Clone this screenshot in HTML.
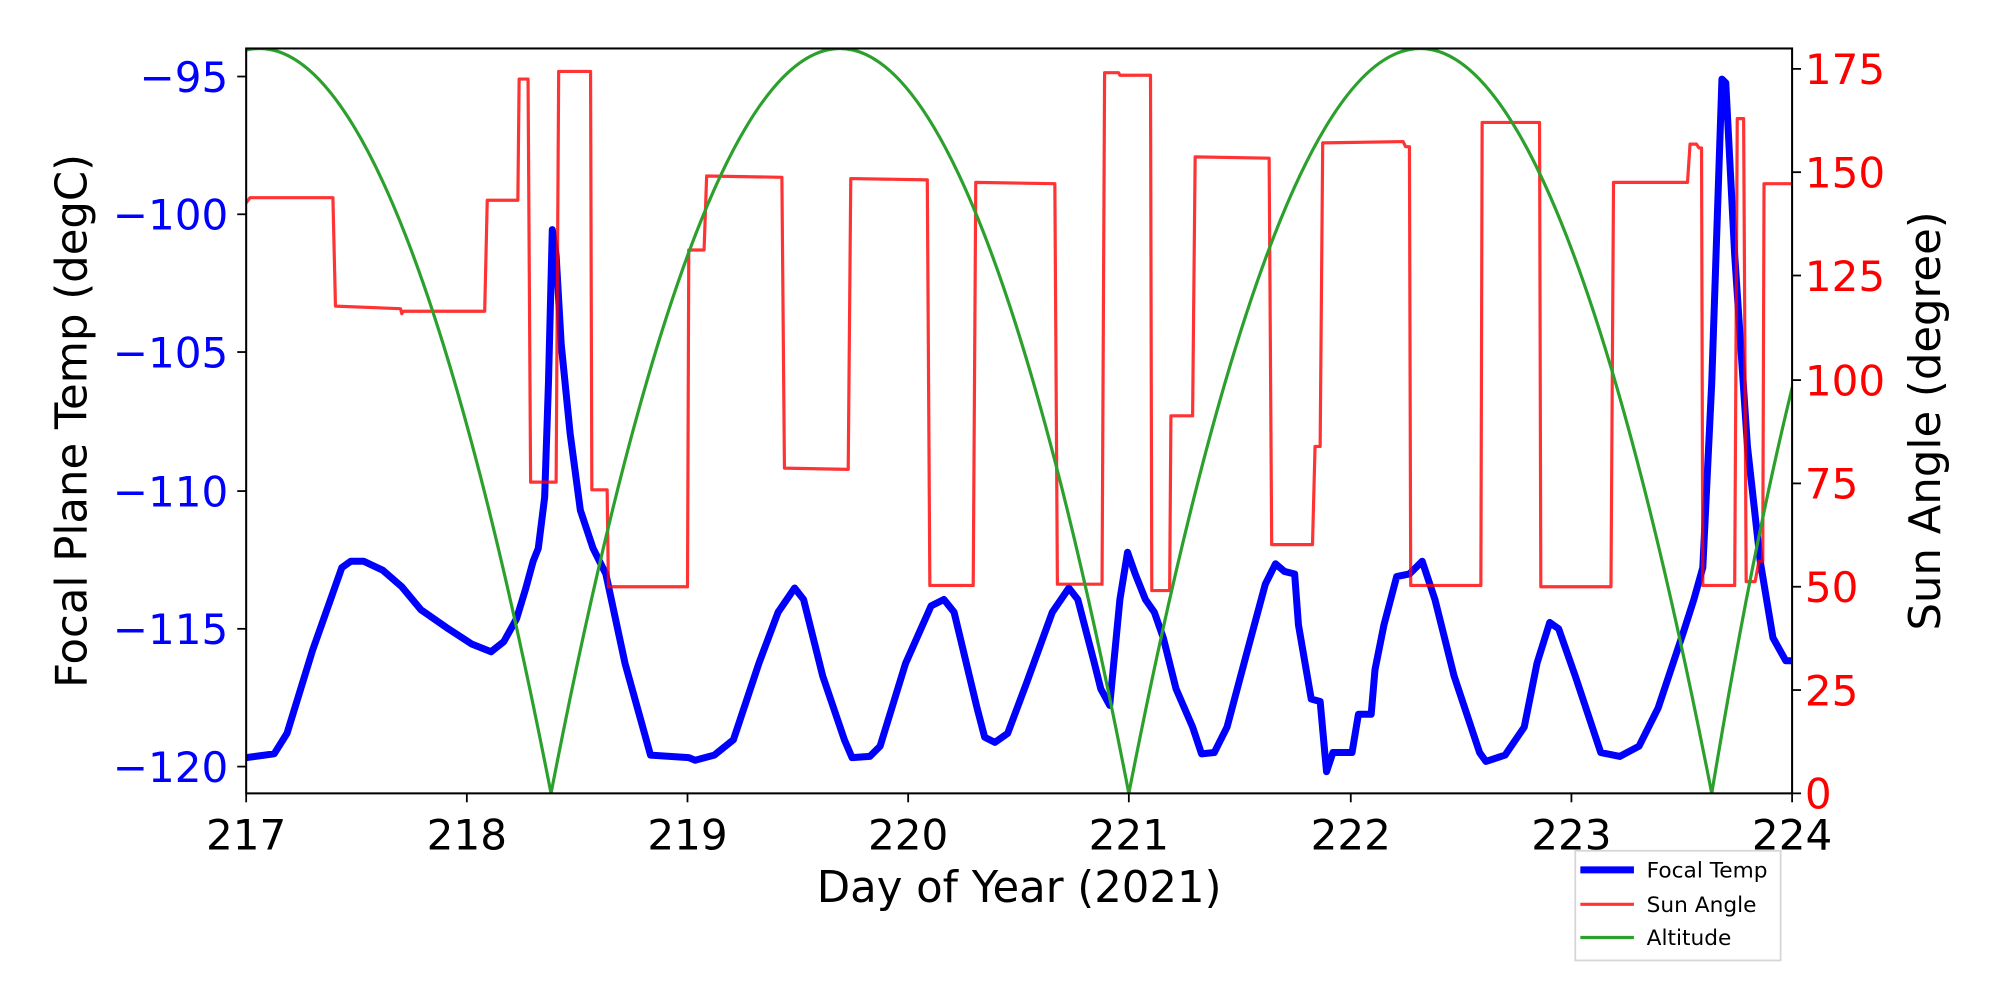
<!DOCTYPE html>
<html><head><meta charset="utf-8"><style>
html,body{margin:0;padding:0;background:#fff;}
svg{display:block;}
text{font-family:"DejaVu Sans","Liberation Sans",sans-serif;}
</style></head><body>
<svg width="2000" height="1000" viewBox="0 0 1568 784" xmlns="http://www.w3.org/2000/svg">
<defs><clipPath id="c"><rect x="193" y="38" width="1212" height="584"/></clipPath></defs>
<rect width="1568" height="784" fill="#fff"/>
<g clip-path="url(#c)" fill="none" stroke-linejoin="round" stroke-linecap="round">
<polyline stroke="#0000ff" stroke-width="5.5" points="193,594 215,591 225,575 245,510 268,445 275,440 285,440 300,447 315,460 330,478 350,492 370,505 385,511 395,503 405,485 412,462 418,440 422,430 427,390 430,300 433,180 436,200 440,270 447,340 455,400 465,430 475,450 490,520 510,592 540,594 545,596 560,592 575,580 595,520 610,480 623,461 630,470 645,530 662,580 668,594 682,593 690,585 710,520 730,475 740,470 748,480 760,530 766,555 772,578 780,582 790,575 805,535 825,480 838,461 845,470 858,520 863,540 870,553 878,470 884,433 890,450 898,470 905,480 912,500 922,540 935,570 942,591 952,590 962,570 978,510 992,458 1000,442 1007,448 1015,450 1018,490 1028,548 1035,550 1040,605 1045,590 1060,590 1065,560 1075,560 1078,525 1085,490 1095,452 1105,450 1115,440 1125,470 1140,530 1160,590 1165,597 1180,592 1195,570 1205,520 1215,488 1222,493 1235,530 1255,590 1270,593 1285,585 1300,555 1320,495 1328,470 1335,445 1342,300 1350,62 1353,65 1360,200 1370,350 1380,440 1390,500 1400,518 1405,518"/>
<polyline stroke="rgba(255,0,0,0.8)" stroke-width="2.5" points="193,159 196,155 261,155 263,240 314,242 315,246 316,244 380,244 382,157 406,157 407,62 414,62 416,378 436,378 438,56 463,56 464,384 476,384 477,460 539,460 540,196 552,196 554,138 613,139 615,367 665,368 667,140 727,141 729,459 763,459 765,143 827,144 829,458 864,458 866,57 877,57 878,59 902,59 903,463 917,463 918,326 935,326 937,123 995,124 997,427 1029,427 1031,350 1035,350 1037,112 1100,111 1102,115 1105,115 1106,459 1161,459 1162,96 1207,96 1208,460 1263,460 1265,143 1323,143 1325,113 1330,113 1332,116 1334,116 1335,459 1360,459 1362,93 1367,93 1369,456 1376,456 1379,440 1382,440 1383,144 1405,144"/>
<path stroke="#2ca02c" stroke-width="2.5" d="M-25,622 Q203.5,-546 432,622 Q658.5,-546 885,622 Q1113.5,-546 1342,622 Q1536,-546 1730,622"/>
</g>
<rect x="193" y="38" width="1212" height="584" fill="none" stroke="#000" stroke-width="1.6"/>
<g stroke="#000" stroke-width="1.4">
<line x1="186" y1="60" x2="193" y2="60"/><line x1="186" y1="168" x2="193" y2="168"/><line x1="186" y1="276" x2="193" y2="276"/><line x1="186" y1="385" x2="193" y2="385"/><line x1="186" y1="493" x2="193" y2="493"/><line x1="186" y1="601" x2="193" y2="601"/>
<line x1="1405" y1="54" x2="1412" y2="54"/><line x1="1405" y1="135" x2="1412" y2="135"/><line x1="1405" y1="216" x2="1412" y2="216"/><line x1="1405" y1="298" x2="1412" y2="298"/><line x1="1405" y1="379" x2="1412" y2="379"/><line x1="1405" y1="460" x2="1412" y2="460"/><line x1="1405" y1="541" x2="1412" y2="541"/><line x1="1405" y1="622" x2="1412" y2="622"/>
<line x1="193" y1="622" x2="193" y2="629"/><line x1="366" y1="622" x2="366" y2="629"/><line x1="539" y1="622" x2="539" y2="629"/><line x1="712" y1="622" x2="712" y2="629"/><line x1="885" y1="622" x2="885" y2="629"/><line x1="1059" y1="622" x2="1059" y2="629"/><line x1="1232" y1="622" x2="1232" y2="629"/><line x1="1405" y1="622" x2="1405" y2="629"/>
</g>
<g font-size="33" fill="#0000ff" text-anchor="end">
<text x="179" y="72">−95</text><text x="179" y="180">−100</text><text x="179" y="288">−105</text><text x="179" y="397">−110</text><text x="179" y="505">−115</text><text x="179" y="613">−120</text>
</g>
<g font-size="33" fill="#ff0000" text-anchor="start">
<text x="1415" y="66">175</text><text x="1415" y="147">150</text><text x="1415" y="228">125</text><text x="1415" y="310">100</text><text x="1415" y="391">75</text><text x="1415" y="472">50</text><text x="1415" y="553">25</text><text x="1415" y="634">0</text>
</g>
<g font-size="33" fill="#000" text-anchor="middle">
<text x="193" y="666">217</text><text x="366" y="666">218</text><text x="539" y="666">219</text><text x="712" y="666">220</text><text x="885" y="666">221</text><text x="1059" y="666">222</text><text x="1232" y="666">223</text><text x="1405" y="666">224</text>
</g>
<g font-size="34" fill="#000" text-anchor="middle">
<text x="799" y="707">Day of Year (2021)</text>
<text transform="translate(68,330) rotate(-90)">Focal Plane Temp (degC)</text>
<text transform="translate(1521,330) rotate(-90)">Sun Angle (degree)</text>
</g>
<rect x="1235" y="667" width="161" height="86" fill="#fff" stroke="#d6d6d6" stroke-width="1.4"/>
<line x1="1239" y1="682" x2="1281" y2="682" stroke="#0000ff" stroke-width="5.5"/>
<line x1="1239" y1="709" x2="1281" y2="709" stroke="rgba(255,0,0,0.8)" stroke-width="2.5"/>
<line x1="1239" y1="735" x2="1281" y2="735" stroke="#2ca02c" stroke-width="2.5"/>
<g font-size="17" fill="#000">
<text x="1291" y="688">Focal Temp</text><text x="1291" y="715">Sun Angle</text><text x="1291" y="741">Altitude</text>
</g>
</svg>
</body></html>
